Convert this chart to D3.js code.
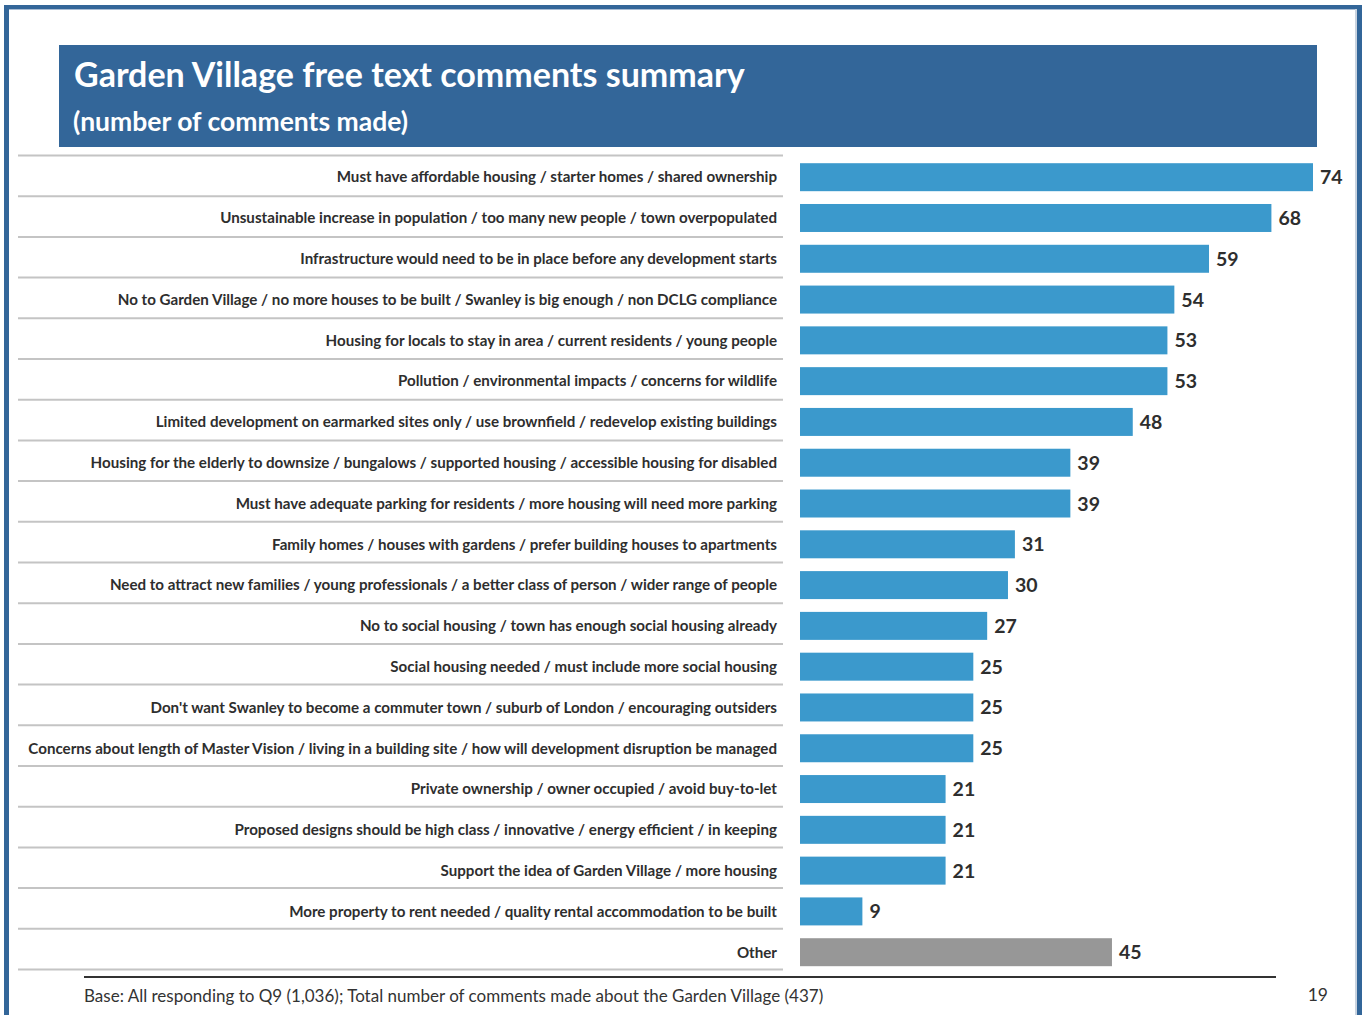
<!DOCTYPE html>
<html>
<head>
<meta charset="utf-8">
<script src="https://cdn.jsdelivr.net/npm/d3@7"></script>
<style>
  html, body { margin: 0; padding: 0; background: #fff; }
  svg { display: block; }
</style>
</head>
<body>
<div id="chart"></div>
<script>
// Comment themes and counts
const categories = [
  "Must have affordable housing / starter homes / shared ownership",
  "Unsustainable increase in population / too many new people / town overpopulated",
  "Infrastructure would need to be in place before any development starts",
  "No to Garden Village / no more houses to be built / Swanley is big enough / non DCLG compliance",
  "Housing for locals to stay in area / current residents / young people",
  "Pollution / environmental impacts / concerns for wildlife",
  "Limited development on earmarked sites only / use brownfield / redevelop existing buildings",
  "Housing for the elderly to downsize / bungalows / supported housing / accessible housing for disabled",
  "Must have adequate parking for residents / more housing will need more parking",
  "Family homes / houses with gardens / prefer building houses to apartments",
  "Need to attract new families / young professionals / a better class of person / wider range of people",
  "No to social housing / town has enough social housing already",
  "Social housing needed / must include more social housing",
  "Don't want Swanley to become a commuter town / suburb of London / encouraging outsiders",
  "Concerns about length of Master Vision / living in a building site / how will development disruption be managed",
  "Private ownership / owner occupied / avoid buy-to-let",
  "Proposed designs should be high class / innovative / energy efficient / in keeping",
  "Support the idea of Garden Village / more housing",
  "More property to rent needed / quality rental accommodation to be built",
  "Other"
];
const counts = [74, 68, 59, 54, 53, 53, 48, 39, 39, 31, 30, 27, 25, 25, 25, 21, 21, 21, 9, 45];
const otherCategory = "Other";

const titleText = "Garden Village free text comments summary";
const subtitleText = "(number of comments made)";
const footnoteText = "Base: All responding to Q9 (1,036); Total number of comments made about the Garden Village (437)";
const pageNumber = "19";

const W = 1362, H = 1015;
const svg = d3.select("#chart").append("svg")
  .attr("width", W).attr("height", H)
  .style("font-family", "Lato, 'Open Sans', sans-serif");

// Slide frame
svg.append("rect").attr("x", 4).attr("y", 5).attr("width", 5).attr("height", H).attr("fill", "#336699");
svg.append("rect").attr("x", 4).attr("y", 5).attr("width", W - 4).attr("height", 4).attr("fill", "#336699");
svg.append("rect").attr("x", 1357).attr("y", 5).attr("width", 5).attr("height", H).attr("fill", "#336699");
svg.append("rect").attr("x", 9).attr("y", 9).attr("width", 1346).attr("height", 1).attr("fill", "#a9bcd3");
svg.append("rect").attr("x", 1355).attr("y", 9).attr("width", 2).attr("height", H).attr("fill", "#c9d3df");

// Title banner
svg.append("rect").attr("x", 59).attr("y", 45).attr("width", 1258).attr("height", 102).attr("fill", "#336699");
svg.append("text").attr("x", 74).attr("y", 87)
  .attr("fill", "#fff").attr("font-weight", 700).attr("font-size", 34)
  .text(titleText);
svg.append("text").attr("x", 73).attr("y", 131)
  .attr("fill", "#fff").attr("font-weight", 700).attr("font-size", 26.5)
  .text(subtitleText);

// Scales
const y = d3.scaleBand().domain(categories).range([156.8, 972.6]).paddingInner(0.314).paddingOuter(0.157);
const x = d3.scaleLinear().domain([0, 74]).range([800, 1313]);

// Row separators
const sepYs = d3.range(categories.length + 1).map(i => 155.5 + i * (814 / categories.length));
svg.append("g").selectAll("line").data(sepYs).join("line")
  .attr("x1", 18).attr("x2", 783)
  .attr("y1", d => d).attr("y2", d => d)
  .attr("stroke", "#c4c4c4").attr("stroke-width", 2);

// Category labels
svg.append("g").selectAll("text").data(categories).join("text")
  .attr("x", 777)
  .attr("y", d => y(d) + y.bandwidth() / 2)
  .attr("dy", "0.35em")
  .attr("text-anchor", "end")
  .attr("font-size", 15.15).attr("font-weight", 700).attr("fill", "#2e2e2e")
  .text(d => d);

// Bars
const rows = categories.map((c, i) => ({ c, v: counts[i] }));
svg.append("g").selectAll("rect").data(rows).join("rect")
  .attr("x", x(0))
  .attr("y", d => y(d.c))
  .attr("width", d => x(d.v) - x(0))
  .attr("height", y.bandwidth())
  .attr("fill", d => d.c === otherCategory ? "#979797" : "#3b99cc");

// Value labels
svg.append("g").selectAll("text").data(rows).join("text")
  .attr("x", d => x(d.v) + 7)
  .attr("y", d => y(d.c) + y.bandwidth() / 2)
  .attr("dy", "0.36em")
  .attr("font-size", 19.5).attr("font-weight", 700).attr("fill", "#2e2e2e")
  .text(d => d.v);

// Footer
svg.append("line").attr("x1", 84).attr("x2", 1276).attr("y1", 977).attr("y2", 977)
  .attr("stroke", "#333").attr("stroke-width", 2);
svg.append("text").attr("x", 84).attr("y", 1002)
  .attr("font-size", 17).attr("fill", "#333").text(footnoteText);
svg.append("text").attr("x", 1328).attr("y", 1001).attr("text-anchor", "end")
  .attr("font-size", 17.5).attr("fill", "#333").text(pageNumber);
</script>
</body>
</html>
